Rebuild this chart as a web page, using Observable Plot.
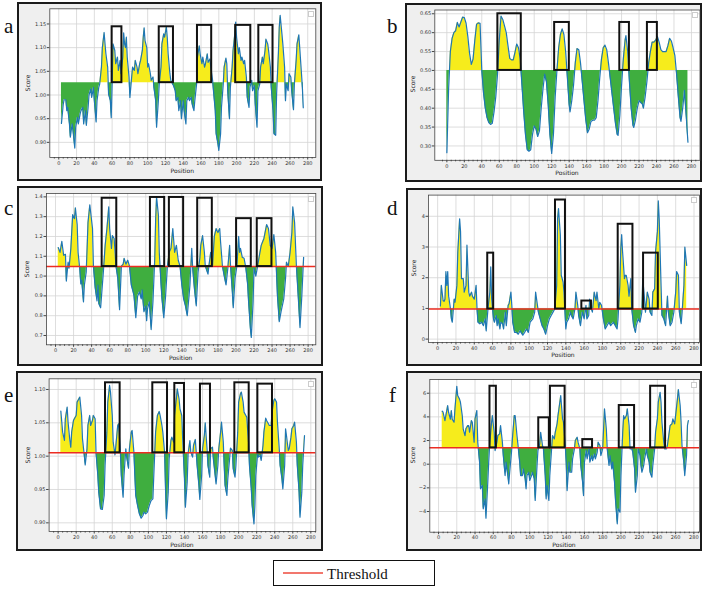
<!DOCTYPE html>
<html><head><meta charset="utf-8">
<script src="https://cdn.jsdelivr.net/npm/d3@7"></script>
<script src="https://cdn.jsdelivr.net/npm/@observablehq/plot@0.6"></script>
<style>
body{margin:0;background:#fff;}
#page{position:relative;width:708px;height:590px;overflow:hidden;font-family:"DejaVu Sans";background:#fff;}
.frame{position:absolute;box-sizing:border-box;border:2px solid #1b1b1b;background:#efefef;}
.plot{position:absolute;}
.letter{position:absolute;font-family:"Liberation Serif";font-size:21px;line-height:1;color:#111;}
.xl{position:absolute;font-size:6px;line-height:1;transform:translate(-50%,-50%);color:#222;white-space:nowrap;}
.yl{position:absolute;font-size:6px;line-height:1;transform:translate(-50%,-50%) rotate(-90deg);color:#222;white-space:nowrap;}
.lb{position:absolute;width:4px;height:4px;background:#fff;border:0.6px solid #ccc;}
</style></head><body><div id="page"></div><script>
// ---------- data (position, score) ----------
const panelA = [[3,0.940],[5,0.980],[6,0.990],[8,0.990],[9,0.967],[10,0.974],[12,0.939],[13,0.911],[15,0.939],[16,0.925],[18,0.888],[19,0.932],[21,0.953],[22,0.939],[24,0.960],[25,0.967],[27,0.974],[28,0.939],[30,0.967],[31,0.936],[33,0.974],[34,1.000],[36,1.013],[37,0.995],[39,1.016],[40,0.988],[42,0.943],[43,0.988],[45,1.016],[46,1.023],[48,1.059],[49,1.100],[51,1.132],[52,1.108],[53,1.087],[55,1.059],[56,1.002],[58,0.988],[59,0.952],[60,1.023],[61,1.108],[63,1.094],[64,1.066],[66,1.080],[67,1.052],[69,1.073],[70,1.045],[72,1.080],[73,1.131],[74,1.108],[75,1.100],[76,1.122],[77,1.080],[79,1.038],[80,0.995],[82,1.038],[83,1.059],[85,1.052],[86,1.073],[88,1.059],[89,1.045],[91,1.066],[92,1.073],[94,1.094],[95,1.122],[96,1.142],[97,1.115],[99,1.100],[100,1.059],[101,1.066],[103,1.045],[104,1.031],[106,1.038],[107,1.016],[109,0.988],[110,0.932],[112,0.988],[113,1.023],[115,1.059],[116,1.108],[118,1.129],[119,1.122],[121,1.144],[122,1.122],[123,1.087],[125,1.045],[126,1.031],[128,1.023],[129,1.020],[131,1.009],[132,0.988],[134,0.995],[135,0.967],[137,0.988],[138,0.950],[140,0.988],[141,0.967],[143,0.939],[144,0.988],[146,0.995],[147,0.988],[149,0.995],[150,0.981],[152,0.967],[153,0.988],[155,1.023],[156,1.080],[158,1.104],[159,1.087],[161,1.066],[162,1.080],[164,1.059],[165,1.066],[167,1.087],[168,1.069],[170,1.076],[171,1.059],[173,1.031],[174,1.009],[176,0.967],[177,0.918],[179,0.897],[180,0.883],[182,0.918],[183,0.974],[185,1.023],[186,1.059],[188,1.078],[189,1.066],[190,1.009],[192,0.950],[193,1.016],[195,1.059],[196,1.094],[198,1.129],[199,1.154],[200,1.122],[202,1.087],[203,1.100],[205,1.073],[206,1.080],[208,1.066],[209,1.073],[211,1.038],[212,0.995],[214,0.974],[215,1.016],[217,1.031],[218,1.009],[220,1.020],[221,0.981],[223,0.932],[224,1.009],[226,1.023],[227,1.059],[229,1.080],[230,1.066],[232,1.094],[233,1.118],[235,1.108],[236,1.094],[238,1.059],[239,1.016],[241,0.967],[242,0.918],[244,0.915],[245,1.002],[247,1.087],[248,1.143],[249,1.168],[251,1.129],[252,1.108],[254,1.059],[255,0.988],[256,1.023],[258,1.009],[259,1.045],[261,1.038],[262,1.009],[264,0.969],[265,1.023],[267,1.073],[268,1.108],[270,1.127],[271,1.100],[273,1.045],[274,1.016],[275,0.973]];

const panelB = [[0,0.282],[2,0.45],[4,0.55],[6,0.585],[8,0.60],[10,0.605],[12,0.627],[14,0.615],[16,0.628],[18,0.641],[20,0.64],[22,0.625],[24,0.59],[26,0.545],[28,0.516],[30,0.53],[32,0.58],[34,0.622],[36,0.626],[38,0.625],[40,0.50],[42,0.44],[44,0.40],[46,0.375],[48,0.362],[50,0.357],[52,0.36],[54,0.39],[56,0.43],[58,0.49],[60,0.58],[62,0.644],[64,0.635],[66,0.618],[68,0.60],[70,0.565],[72,0.532],[74,0.528],[76,0.528],[78,0.548],[80,0.57],[82,0.56],[84,0.53],[86,0.46],[88,0.39],[90,0.33],[92,0.29],[94,0.286],[96,0.29],[98,0.33],[100,0.353],[102,0.345],[104,0.325],[106,0.34],[108,0.40],[110,0.45],[112,0.49],[114,0.47],[116,0.41],[118,0.33],[120,0.28],[122,0.33],[124,0.43],[126,0.50],[128,0.56],[130,0.595],[132,0.61],[134,0.595],[136,0.55],[138,0.48],[140,0.41],[141,0.39],[143,0.42],[145,0.46],[147,0.52],[149,0.558],[151,0.555],[153,0.52],[155,0.47],[157,0.42],[159,0.37],[161,0.335],[163,0.345],[165,0.365],[167,0.368],[169,0.368],[171,0.375],[173,0.42],[175,0.48],[177,0.53],[179,0.56],[181,0.567],[183,0.555],[185,0.52],[187,0.48],[189,0.44],[191,0.40],[193,0.36],[195,0.33],[196,0.328],[198,0.38],[200,0.46],[202,0.53],[204,0.58],[205,0.592],[207,0.55],[209,0.47],[211,0.40],[213,0.355],[214,0.349],[216,0.37],[218,0.40],[220,0.42],[222,0.415],[224,0.41],[225,0.40],[227,0.43],[229,0.47],[231,0.52],[233,0.55],[235,0.575],[237,0.575],[239,0.58],[241,0.59],[243,0.575],[245,0.555],[247,0.55],[249,0.55],[251,0.55],[253,0.565],[255,0.585],[257,0.578],[259,0.56],[261,0.54],[263,0.49],[265,0.43],[267,0.375],[268,0.365],[270,0.40],[272,0.447],[274,0.38],[276,0.31]];

const panelC = [[3,1.144],[5,1.12],[7,1.175],[9,1.105],[11,1.11],[12,0.975],[14,1.07],[15,1.04],[17,1.14],[19,1.31],[21,1.29],[22,1.345],[24,1.26],[25,1.12],[27,1.03],[28,0.96],[29,0.98],[31,0.87],[32,0.955],[34,1.02],[35,1.14],[36,1.27],[38,1.36],[39,1.32],[41,1.24],[42,1.05],[44,0.94],[46,0.875],[47,0.955],[48,0.86],[50,0.84],[51,0.90],[53,1.02],[55,1.155],[57,1.24],[59,1.35],[60,1.24],[62,1.14],[63,1.205],[65,1.19],[67,1.05],[69,0.99],[71,0.83],[73,1.05],[75,1.06],[76,1.09],[78,1.06],[80,1.08],[82,1.05],[84,0.955],[86,0.92],[87,0.90],[89,0.79],[91,0.90],[93,0.92],[95,0.885],[96,0.93],[98,0.82],[100,0.85],[101,0.775],[102,0.835],[104,0.87],[106,0.73],[108,0.87],[110,1.09],[111,1.29],[112,1.40],[114,1.31],[115,1.12],[117,0.955],[118,0.885],[120,0.79],[122,0.90],[124,1.05],[126,1.12],[128,1.14],[130,1.24],[132,1.12],[134,1.155],[136,1.08],[138,1.05],[140,0.955],[142,0.885],[144,0.85],[146,0.80],[148,0.90],[149,0.955],[151,1.14],[152,1.04],[154,0.935],[156,0.85],[158,1.02],[160,1.09],[161,1.155],[163,1.205],[165,1.12],[166,1.05],[169,1.01],[170,1.05],[172,1.12],[174,1.05],[176,1.20],[178,1.24],[180,1.22],[182,1.24],[183,1.17],[185,1.05],[187,1.00],[189,0.955],[191,1.04],[193,1.155],[194,1.05],[196,0.92],[197,0.84],[199,0.99],[201,1.05],[203,1.20],[204,1.12],[205,1.14],[207,1.095],[209,1.09],[211,1.04],[213,0.955],[214,0.87],[216,0.735],[217,0.69],[219,0.87],[220,1.04],[222,1.00],[224,1.05],[226,1.105],[228,1.155],[231,1.19],[234,1.26],[236,1.24],[238,1.155],[240,1.14],[242,1.21],[244,1.12],[246,0.90],[248,0.77],[250,0.82],[253,0.885],[255,0.99],[256,1.07],[258,1.05],[260,1.12],[262,1.22],[263,1.35],[265,1.27],[267,1.05],[269,0.90],[271,0.74],[273,0.90],[275,1.095]];

const panelD = [[3,1.08],[4,1.75],[6,1.25],[7,1.23],[8,1.30],[9,2.2],[10,1.75],[11,2.2],[12,1.4],[14,0.99],[15,0.66],[16,0.55],[18,1.3],[19,1.2],[21,1.75],[22,2.84],[24,3.92],[25,3.5],[26,1.97],[28,1.97],[29,1.53],[31,1.75],[32,3.06],[34,1.53],[35,1.4],[37,1.53],[38,1.4],[40,1.3],[42,1.75],[43,0.98],[44,0.55],[46,0.5],[48,0.55],[50,0.44],[52,0.66],[53,0.27],[55,1.0],[57,1.53],[58,2.35],[59,1.3],[61,0.66],[62,0.55],[64,0.77],[65,0.44],[66,0.66],[68,0.33],[69,0.55],[71,0.5],[72,0.33],[74,0.88],[75,0.44],[77,1.1],[78,1.15],[80,1.53],[81,1.1],[82,0.55],[84,0.22],[86,0.22],[88,0.16],[90,0.27],[93,0.13],[95,0.22],[97,0.33],[99,0.22],[101,0.55],[104,0.66],[106,0.88],[107,1.53],[109,1.1],[110,0.88],[112,0.66],[114,0.44],[116,0.33],[118,0.16],[120,0.44],[122,0.66],[124,0.77],[126,0.88],[128,0.99],[130,1.75],[131,3.92],[132,4.25],[134,3.4],[135,2.08],[137,1.86],[138,1.53],[140,0.33],[141,0.55],[143,0.66],[145,0.88],[146,0.77],[148,0.66],[150,0.99],[151,1.53],[153,1.1],[154,0.77],[156,0.44],[158,0.88],[160,0.66],[162,1.1],[163,0.66],[165,0.77],[166,1.3],[168,0.99],[169,0.88],[171,1.53],[173,1.25],[174,1.53],[176,0.99],[177,1.2],[179,1.1],[181,0.66],[183,0.33],[185,0.44],[187,0.55],[189,0.44],[192,0.55],[194,0.44],[196,0.33],[197,0.66],[199,1.75],[200,2.95],[201,3.4],[202,2.84],[204,1.97],[205,2.08],[206,2.08],[208,1.75],[209,1.4],[211,1.97],[212,0.99],[214,0.44],[216,0.22],[217,0.44],[219,0.66],[221,0.55],[223,0.88],[224,1.97],[226,1.3],[227,0.88],[229,1.53],[231,1.3],[232,0.88],[234,0.77],[235,1.53],[237,1.64],[238,2.84],[240,3.5],[241,4.5],[242,3.92],[244,1.75],[245,0.77],[247,0.66],[249,0.44],[251,1.4],[252,0.88],[254,0.44],[256,0.55],[258,0.88],[260,1.53],[261,2.2],[263,2.08],[264,0.88],[266,0.5],[267,0.88],[269,1.75],[270,3.0],[272,2.4]];

const panelE = [[3,1.0675],[5,1.036],[7,1.0235],[8,1.056],[10,1.0735],[11,1.051],[13,1.0235],[14,1.0135],[15,1.036],[17,1.0535],[18,1.056],[20,1.061],[21,1.081],[23,1.086],[24,1.0885],[26,1.061],[27,1.026],[29,1.001],[30,0.987],[32,1.011],[33,1.046],[35,1.061],[36,1.046],[38,1.0535],[39,1.061],[41,1.056],[42,1.005],[44,0.971],[45,0.946],[47,0.921],[49,0.92],[51,0.941],[52,0.986],[54,1.036],[55,1.081],[57,1.106],[58,1.096],[60,1.061],[61,1.021],[63,1.002],[64,1.016],[66,1.046],[67,1.0485],[69,1.006],[70,0.971],[72,0.9385],[73,0.971],[75,1.011],[76,0.9985],[78,0.982],[79,1.011],[81,1.036],[82,1.0385],[84,1.005],[85,0.971],[86,0.941],[88,0.926],[90,0.9135],[92,0.907],[94,0.911],[95,0.916],[97,0.9135],[99,0.916],[101,0.926],[103,0.9335],[105,0.936],[106,0.971],[108,1.036],[110,1.061],[112,1.067],[113,1.061],[115,1.046],[116,1.036],[118,1.005],[119,0.951],[120,0.906],[122,0.946],[123,0.996],[125,1.0235],[126,1.0285],[128,1.021],[129,1.061],[131,1.086],[132,1.101],[134,1.086],[135,1.071],[137,1.061],[138,1.026],[140,0.966],[141,0.9235],[143,0.961],[144,1.0035],[146,1.0235],[147,1.006],[149,0.9985],[150,1.016],[152,1.025],[153,1.006],[154,0.986],[156,0.956],[157,0.935],[159,0.971],[160,1.011],[162,1.031],[163,1.05],[165,1.011],[166,0.986],[168,0.9685],[169,1.011],[171,1.0135],[172,0.996],[174,0.971],[175,0.9585],[177,0.986],[178,1.011],[180,1.036],[181,1.051],[183,1.021],[184,0.986],[185,0.956],[187,0.941],[188,0.966],[190,0.996],[191,1.012],[193,1.0085],[194,0.981],[196,0.9685],[197,0.986],[199,1.036],[200,1.081],[202,1.0935],[203,1.096],[205,1.081],[206,1.066],[208,1.061],[209,1.0585],[211,1.021],[212,0.986],[214,0.951],[215,0.926],[217,0.8985],[218,0.926],[219,0.971],[221,1.0035],[222,0.9985],[224,1.001],[225,0.9935],[227,1.016],[228,1.036],[230,1.057],[231,1.0535],[233,1.0485],[234,1.046],[236,1.046],[237,1.066],[239,1.0835],[240,1.086],[242,1.081],[243,1.051],[245,1.011],[246,0.986],[248,0.966],[249,0.951],[251,0.986],[252,1.041],[253,1.031],[255,1.0085],[256,1.011],[258,1.0285],[259,1.041],[261,1.046],[262,1.051],[264,1.021],[265,0.986],[267,0.946],[268,0.9085],[270,0.946],[271,0.986],[273,1.031]];

const panelF = [[4,4.48],[5,4.39],[7,3.69],[8,4.11],[10,4.96],[11,4.39],[13,3.8],[14,4.54],[15,3.8],[17,3.55],[18,4.68],[20,6.59],[21,5.8],[23,5.5],[24,5.24],[26,4.11],[27,2.99],[29,2.42],[30,2.99],[32,3.27],[33,3.27],[34,2.7],[36,3.69],[37,3.55],[39,1.86],[40,3.83],[42,4.54],[43,1.86],[45,0.17],[46,-2.08],[48,-1.8],[49,-3.77],[51,-2.93],[52,-4.56],[54,-1.52],[55,0.17],[56,1.58],[58,3.41],[59,4.11],[61,2.7],[62,1.15],[64,1.86],[65,2.42],[67,2.56],[68,3.27],[70,1.86],[71,0.73],[73,-0.96],[74,0.17],[76,-0.96],[77,-1.66],[78,-0.68],[80,1.01],[81,2.14],[83,4.11],[84,4.11],[86,2.42],[87,1.72],[89,0.17],[90,-0.96],[92,-0.96],[93,-0.39],[95,-1.24],[96,-2.08],[97,-0.96],[99,-0.68],[100,-1.38],[102,-0.96],[103,-0.68],[105,-1.24],[106,-3.07],[108,-0.11],[109,1.15],[111,1.72],[112,2.7],[114,1.58],[115,1.3],[117,-0.96],[118,-2.93],[119,-1.8],[121,-3.07],[122,-0.96],[124,1.3],[125,2.42],[127,2.14],[128,2.7],[130,3.41],[131,4.11],[133,5.24],[134,5.8],[136,3.83],[137,3.55],[139,1.58],[140,0.17],[141,-2.23],[143,0.17],[144,-0.68],[146,-0.68],[147,0.45],[149,1.3],[150,2.0],[152,2.28],[153,1.86],[155,1.3],[156,-0.11],[158,-1.52],[159,-2.65],[160,0.17],[162,1.15],[163,0.45],[165,1.3],[166,0.17],[168,0.73],[169,0.31],[171,0.87],[172,0.45],[174,1.01],[175,1.86],[177,1.58],[178,0.73],[180,1.3],[181,2.99],[182,4.68],[184,2.99],[185,1.3],[187,-0.11],[188,0.73],[190,-0.39],[191,0.17],[193,-1.52],[194,-2.93],[196,-5.04],[197,-3.77],[199,-4.06],[200,-0.96],[202,2.7],[203,4.11],[204,3.83],[206,4.11],[207,4.68],[209,3.27],[210,1.3],[212,1.3],[213,1.01],[215,-0.39],[216,-2.37],[218,-0.96],[219,1.3],[221,0.73],[222,-0.11],[223,-0.68],[225,-0.11],[226,0.45],[228,1.3],[229,0.73],[231,0.17],[232,-0.68],[234,-1.1],[235,-0.11],[237,1.3],[238,2.7],[240,3.83],[241,5.24],[243,6.08],[244,5.24],[245,3.55],[247,1.86],[248,1.3],[250,1.3],[251,1.58],[253,2.7],[254,3.27],[256,3.41],[257,3.83],[259,3.41],[260,4.11],[262,5.52],[263,6.31],[265,4.96],[266,3.55],[267,1.58],[269,0.17],[270,-0.96],[272,0.73],[273,3.27],[274,3.69]];

// thresholds
const thresholds = {a: 1.026, b: 0.50, c: 1.048, d: 0.98, e: 1.005, f: 1.38};

// highlighted boxes: start position, end position, top score
const boxStartA = [60, 113, 156, 199, 225], boxEndA = [71, 129, 172, 216, 241], boxTopA = [1.144, 1.144, 1.147, 1.147, 1.147];
const boxStartB = [58.4, 123.4, 198, 229.6], boxEndB = [85.2, 140.2, 209, 241], boxTopB = [0.65, 0.627, 0.627, 0.627];
const boxStartC = [51.7, 105.2, 126.2, 157.6, 200.7, 223.6], boxEndC = [67.9, 121, 142, 173.8, 217, 239.9], boxTopC = [1.393, 1.397, 1.397, 1.393, 1.29, 1.29];
const boxStartD = [54.7, 128.7, 157.5, 197.2, 224.9], boxEndD = [61.2, 139.6, 168, 213.3, 241], boxTopD = [2.80, 4.53, 1.24, 3.74, 2.80];
const boxStartE = [52.5, 104.9, 129.3, 157.7, 195.8, 221.3], boxEndE = [68.7, 121.2, 140, 168.8, 211.7, 237.5], boxTopE = [1.11, 1.11, 1.109, 1.108, 1.11, 1.108];
const boxStartF = [56.4, 109.9, 122.7, 158.2, 198.2, 232.6], boxEndF = [63.4, 121.6, 138.8, 168.9, 215, 249], boxTopF = [6.59, 3.92, 6.59, 2.08, 4.96, 6.59];

// tick labels
const xTicks = [0,20,40,60,80,100,120,140,160,180,200,220,240,260,280];
const yTicksA = [0.90,0.95,1.00,1.05,1.10,1.15];
const yTicksB = [0.30,0.35,0.40,0.45,0.50,0.55,0.60,0.65];
const yTicksC = [0.7,0.8,0.9,1.0,1.1,1.2,1.3,1.4];
const yTicksD = [0,1,2,3,4];
const yTicksE = [0.90,0.95,1.00,1.05,1.10];
const yTicksF = [-4,-2,0,2,4,6];

const YELLOW = "#f6ec1c", GREEN = "#3fae3f", BLUE = "#1f77b4", RED = "#ec2d22";

const panels = [
 {id:"a", data:panelA, t:thresholds.a, bs:boxStartA, be:boxEndA, bt:boxTopA, yt:yTicksA, fmt:".2f", red:false,
  xd:[-10.1,289.1], yd:[0.868,1.182], frame:[17,2,305,179], m:[6.3,6.7,24,32.3], letter:[4,16], xlab:[182.3,171], ylab:[28.3,82.6]},
 {id:"b", data:panelB, t:thresholds.b, bs:boxStartB, be:boxEndB, bt:boxTopB, yt:yTicksB, fmt:".2f", red:false,
  xd:[-13.8,289.8], yd:[0.262,0.660], frame:[405,2.5,297,179.5], m:[6.5,2.5,22.7,29.3], letter:[387,16], xlab:[567,173.3], ylab:[413.3,84]},
 {id:"c", data:panelC, t:thresholds.c, bs:boxStartC, be:boxEndC, bt:boxTopC, yt:yTicksC, fmt:".1f", red:true,
  xd:[-10,288.5], yd:[0.653,1.417], frame:[16.7,186.3,306,180], m:[7,7.7,21.7,29], letter:[4,198], xlab:[180.7,358], ylab:[27.3,268.8]},
 {id:"d", data:panelD, t:thresholds.d, bs:boxStartD, be:boxEndD, bt:boxTopD, yt:yTicksD, fmt:"d", red:true,
  xd:[-10,286], yd:[-0.11,4.69], frame:[405.7,187.7,296,178.3], m:[6.6,3,24.3,22], letter:[387,198], xlab:[563,355], ylab:[414.3,268]},
 {id:"e", data:panelE, t:thresholds.e, bs:boxStartE, be:boxEndE, bt:boxTopE, yt:yTicksE, fmt:".2f", red:true,
  xd:[-10,285.5], yd:[0.887,1.116], frame:[15.7,371,307,180], m:[7.3,7.7,20,32.6], letter:[4,385], xlab:[182,545], ylab:[27.7,454.7]},
 {id:"f", data:panelF, t:thresholds.f, bs:boxStartF, be:boxEndF, bt:boxTopF, yt:yTicksF, fmt:"d", red:true,
  xd:[-9.6,286.2], yd:[-5.75,7.16], frame:[405.7,371,296,180], m:[8,3,19.3,23.3], letter:[389,385], xlab:[564,545], ylab:[412.7,455.3]}
];

const page = document.getElementById("page");
function addDiv(cls, css, text) {
  const d = document.createElement("div");
  if (cls) d.className = cls;
  Object.assign(d.style, css);
  if (text != null) d.textContent = text;
  page.appendChild(d);
  return d;
}

for (const P of panels) {
  const [fl, ft, fw, fh] = P.frame;
  const [mt, mr, mb, ml] = P.m;
  addDiv("frame", {left: fl+"px", top: ft+"px", width: fw+"px", height: fh+"px"});

  const line = P.data.map(([p, s]) => ({p, s}));
  const rows = [];
  P.data.forEach(([p, s], i) => {
    if (i > 0) {
      const [p0, s0] = P.data[i-1];
      const a = s0 - P.t, b = s - P.t;
      if (a * b < 0) rows.push({p: p0 + (p - p0) * a / (a - b), s: P.t});
    }
    rows.push({p, s});
  });
  const boxes = P.bs.map((x1, i) => ({x1, x2: P.be[i], y2: P.bt[i]}));
  const minor = d3.range(-5, 295, 5).filter(v => v % 20 !== 0 && v >= P.xd[0] && v <= P.xd[1]);

  const chart = Plot.plot({
    width: fw, height: fh,
    marginTop: mt, marginRight: mr, marginBottom: mb, marginLeft: ml,
    style: {background: "transparent", fontFamily: "DejaVu Sans", fontSize: "5px", color: "#333", overflow: "visible"},
    x: {domain: P.xd},
    y: {domain: P.yd},
    marks: [
      Plot.frame({fill: "white", stroke: null}),
      Plot.gridX(xTicks, {stroke: "#d4d4d4", strokeOpacity: 1, strokeWidth: 0.8}),
      Plot.gridY(P.yt, {stroke: "#d4d4d4", strokeOpacity: 1, strokeWidth: 0.8}),
      Plot.areaY(rows, {x: "p", y1: P.t, y2: d => Math.max(d.s, P.t), fill: YELLOW}),
      Plot.areaY(rows, {x: "p", y1: P.t, y2: d => Math.min(d.s, P.t), fill: GREEN}),
      Plot.lineY(line, {x: "p", y: "s", stroke: BLUE, strokeWidth: 1.2}),
      P.red ? Plot.ruleY([P.t], {stroke: RED, strokeWidth: 1.5}) : null,
      Plot.rect(boxes, {x1: "x1", x2: "x2", y1: P.t, y2: "y2", fill: "none", stroke: "#111", strokeWidth: 2}),
      Plot.frame({stroke: "#444", strokeWidth: 0.8}),
      Plot.axisX(xTicks, {tickSize: 2.5, tickPadding: 1.2, fontSize: 5, label: null, stroke: "#444"}),
      Plot.axisX(minor, {tickSize: 1.5, tickFormat: () => "", label: null, stroke: "#444"}),
      Plot.axisY(P.yt, {tickSize: 2.5, tickPadding: 1.2, fontSize: 5, tickFormat: d3.format(P.fmt), label: null, stroke: "#444"})
    ]
  });
  chart.classList.add("plot");
  chart.style.left = fl + "px";
  chart.style.top = ft + "px";
  page.appendChild(chart);

  // empty legend placeholder square at the top-right of the plot area
  addDiv("lb", {left: (fl + fw - mr - 7.5) + "px", top: (ft + mt + 2.5) + "px"});
  addDiv("letter", {left: P.letter[0] + "px", top: P.letter[1] + "px"}, P.id);
  addDiv("xl", {left: P.xlab[0] + "px", top: P.xlab[1] + "px"}, "Position");
  addDiv("yl", {left: P.ylab[0] + "px", top: P.ylab[1] + "px"}, "Score");
}

// legend
addDiv(null, {position: "absolute", left: "273px", top: "560px", width: "162px", height: "26px", boxSizing: "border-box", border: "1.5px solid #111", background: "#fff"});
const legendSvg = document.createElementNS("http://www.w3.org/2000/svg", "svg");
legendSvg.setAttribute("width", "50"); legendSvg.setAttribute("height", "6");
Object.assign(legendSvg.style, {position: "absolute", left: "280px", top: "570px"});
legendSvg.innerHTML = '<line x1="3" x2="43" y1="3" y2="3" stroke="#ee4a3c" stroke-width="1.6"/>';
page.appendChild(legendSvg);
addDiv(null, {position: "absolute", left: "327px", top: "566.5px", fontFamily: "Liberation Serif", fontSize: "15px", lineHeight: "1", color: "#111"}, "Threshold");
</script></body></html>
